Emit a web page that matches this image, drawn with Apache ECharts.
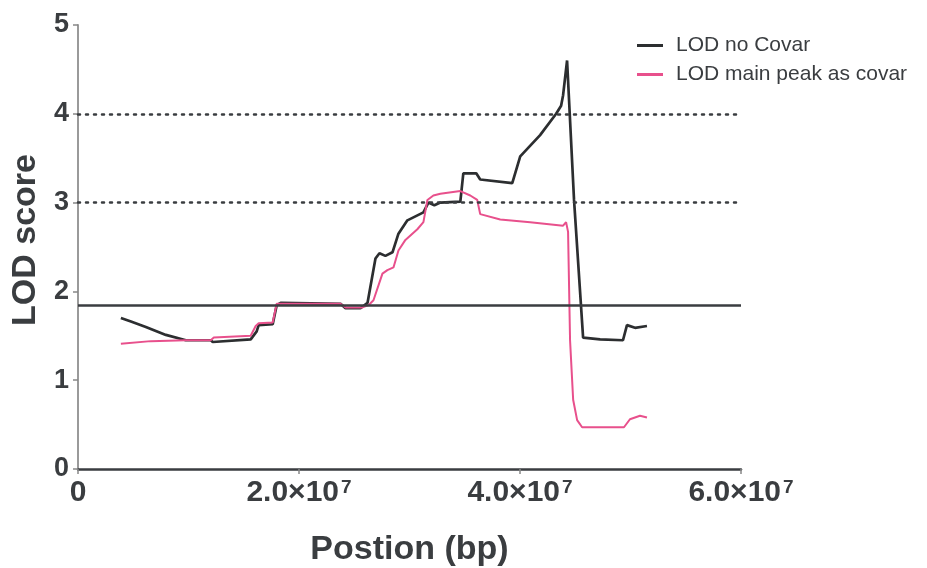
<!DOCTYPE html>
<html>
<head>
<meta charset="utf-8">
<script src="https://cdn.jsdelivr.net/npm/echarts@6/dist/echarts.min.js"></script>
<style>
html,body{margin:0;padding:0;background:#fff;}
#chart{width:927px;height:568px;}
</style>
</head>
<body>
<div id="chart"></div>
<script>
// Position in Mb (x 1e6 bp)
const noCovarPos = [3.88,4.79,6.14,7.95,9.76,12.01,12.20,15.63,16.17,16.35,17.62,17.98,18.34,23.76,24.21,25.56,26.20,26.92,27.28,27.82,28.46,29.00,29.81,31.26,31.71,32.25,32.79,34.60,34.87,36.04,36.40,39.30,40.02,41.82,43.27,43.72,43.90,44.26,44.89,45.71,47.25,49.32,49.68,50.41,51.49];
const noCovarLod = [1.70,1.66,1.60,1.51,1.45,1.45,1.43,1.46,1.55,1.62,1.63,1.845,1.87,1.86,1.81,1.81,1.87,2.37,2.43,2.40,2.44,2.65,2.80,2.89,3.00,2.97,3.00,3.01,3.33,3.33,3.26,3.22,3.52,3.76,4.00,4.09,4.21,4.60,3.03,1.48,1.46,1.45,1.62,1.59,1.61];
const covarPos = [3.88,6.59,9.76,12.01,12.29,15.63,16.08,16.35,17.62,17.98,23.76,24.21,25.75,26.29,26.74,27.55,28.00,28.55,29.00,29.63,30.71,31.26,31.62,32.16,32.79,34.60,35.50,36.13,36.40,38.21,40.92,43.90,44.17,44.35,44.53,44.81,45.17,45.62,49.41,49.95,50.86,51.49];
const covarLod = [1.41,1.44,1.45,1.45,1.48,1.50,1.61,1.64,1.65,1.86,1.86,1.82,1.82,1.845,1.90,2.20,2.24,2.27,2.46,2.58,2.70,2.78,3.03,3.08,3.10,3.13,3.08,3.03,2.87,2.81,2.78,2.74,2.78,2.67,1.45,0.78,0.55,0.47,0.47,0.56,0.60,0.58];
const thresholdLod = 1.845;
const dottedLods = [3, 4];
const xTicks = [0, 2e7, 4e7, 6e7];
const xTickLabels = ['0', '2.0×10^7', '4.0×10^7', '6.0×10^7'];
const yTicks = [0, 1, 2, 3, 4, 5];
const seriesNames = ['LOD no Covar', 'LOD main peak as covar'];

const toPairs = (xs, ys) => xs.map((x, i) => [x * 1e6, ys[i]]);

const chart = echarts.init(document.getElementById('chart'), null, {renderer: 'canvas'});
const FONT = 'Liberation Sans, Arial, Helvetica, sans-serif';
chart.setOption({
  backgroundColor: '#ffffff',
  animation: false,
  textStyle: {fontFamily: FONT},
  grid: {left: 78, right: 186, top: 25, bottom: 99, outerBoundsMode: 'none', containLabel: false},
  legend: {
    orient: 'vertical',
    left: 632,
    top: 30,
    icon: 'rect',
    itemWidth: 26,
    itemHeight: 3,
    itemGap: 8,
    data: seriesNames,
    textStyle: {fontSize: 21, color: '#3a3d40', fontFamily: FONT, padding: [0, 0, 0, 8]}
  },
  xAxis: {
    type: 'value',
    min: xTicks[0],
    max: xTicks[xTicks.length - 1],
    interval: xTicks[1] - xTicks[0],
    name: 'Postion (bp)',
    nameLocation: 'middle',
    nameGap: 64,
    nameTextStyle: {fontSize: 34, fontWeight: 'bold', color: '#3a3d40', fontFamily: FONT},
    axisLine: {onZero: false, lineStyle: {color: '#3a3d40', width: 2.5}},
    axisTick: {show: true, length: 5, lineStyle: {color: '#888', width: 1.5}},
    splitLine: {show: false},
    axisLabel: {
      margin: 9,
      formatter: function (v) {
        const idx = xTicks.indexOf(v);
        const lab = idx >= 0 ? xTickLabels[idx] : '';
        const parts = lab.split('^');
        if (parts.length === 1) return '{b|' + parts[0] + '}';
        return '{b|' + parts[0] + '}{s|' + parts[1] + '}';
      },
      rich: {
        b: {fontSize: 30, fontWeight: 'bold', color: '#3a3d40', fontFamily: FONT, lineHeight: 30},
        s: {fontSize: 19, fontWeight: 'bold', color: '#3a3d40', fontFamily: FONT, verticalAlign: 'top', lineHeight: 19, padding: [0, 0, 0, 2]}
      }
    }
  },
  yAxis: {
    type: 'value',
    min: yTicks[0],
    max: yTicks[yTicks.length - 1],
    interval: 1,
    name: 'LOD score',
    nameLocation: 'middle',
    nameGap: 34,
    nameRotate: 90,
    nameTextStyle: {fontSize: 34, fontWeight: 'bold', color: '#3a3d40', fontFamily: FONT, padding: [0, 0, 0, 14]},
    axisLine: {show: true, lineStyle: {color: '#9a9a9a', width: 2}},
    axisTick: {show: true, length: 5, lineStyle: {color: '#888', width: 1.5}},
    splitLine: {show: false},
    axisLabel: {margin: 9, fontSize: 27, fontWeight: 'bold', color: '#3a3d40', fontFamily: FONT,
      formatter: v => String(v)}
  },
  series: [
    {
      name: seriesNames[0],
      type: 'line',
      showSymbol: false,
      symbol: 'none',
      color: '#2c2e30',
      lineStyle: {color: '#2c2e30', width: 2.7},
      data: toPairs(noCovarPos, noCovarLod),
      z: 3,
      markLine: {
        silent: true,
        symbol: 'none',
        label: {show: false},
        lineStyle: {color: '#3a3d40', width: 2.5, type: 'solid'},
        data: [{yAxis: thresholdLod}].concat(dottedLods.map(v => ({yAxis: v, lineStyle: {type: [2, 6], width: 2.5, color: '#3a3d40', cap: 'round'}})))
      }
    },
    {
      name: seriesNames[1],
      type: 'line',
      showSymbol: false,
      symbol: 'none',
      color: '#e8508c',
      lineStyle: {color: '#e8508c', width: 2},
      data: toPairs(covarPos, covarLod),
      z: 4
    }
  ]
});
</script>
</body>
</html>
